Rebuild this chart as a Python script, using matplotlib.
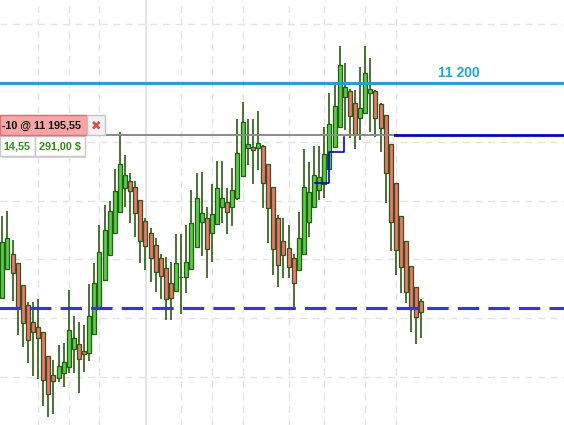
import matplotlib
matplotlib.use("Agg")
import matplotlib.pyplot as plt
from matplotlib.patches import Rectangle
import numpy as np

# OHLC prices, one entry per candle (left to right)
opens = [11181.72, 11184.19, 11185.46, 11184.70, 11182.83, 11181.13, 11179.68, 11179.26, 11178.83, 11176.79,
         11175.17, 11174.92, 11175.34, 11175.85, 11177.39, 11177.81, 11177.22, 11177.04, 11178.66, 11180.96,
         11183.25, 11185.38, 11187.25, 11189.03, 11191.07, 11191.67, 11191.16, 11190.05, 11188.27, 11187.25,
         11186.23, 11185.12, 11184.27, 11183.00, 11182.32, 11183.51, 11183.51, 11184.19, 11186.06, 11188.18,
         11188.52, 11187.25, 11188.01, 11189.46, 11189.88, 11189.46, 11190.22, 11192.10, 11194.48, 11194.56,
         11194.48, 11194.65, 11193.12, 11191.16, 11188.52, 11186.57, 11185.97, 11185.12, 11184.10, 11185.46,
         11188.18, 11189.46, 11190.90, 11191.41, 11192.69, 11194.56, 11196.26, 11198.81, 11199.32, 11198.30,
         11197.03, 11197.45, 11199.15, 11199.32, 11198.22, 11197.28, 11194.82, 11191.50, 11188.69, 11186.57,
         11184.44, 11182.66, 11181.47]
highs = [11188.69, 11189.12, 11186.65, 11184.70, 11182.83, 11181.38, 11181.38, 11181.64, 11178.83, 11176.79,
         11176.45, 11177.73, 11177.90, 11182.40, 11180.19, 11179.68, 11179.43, 11182.91, 11184.70, 11187.93,
         11189.63, 11189.97, 11192.69, 11195.84, 11193.88, 11192.35, 11191.67, 11190.05, 11188.52, 11187.67,
         11186.82, 11185.46, 11185.21, 11184.78, 11187.16, 11187.16, 11187.93, 11190.90, 11192.35, 11192.44,
         11189.46, 11191.41, 11193.37, 11193.37, 11191.07, 11192.78, 11196.94, 11198.39, 11196.94, 11196.94,
         11197.62, 11194.73, 11193.12, 11191.16, 11188.78, 11188.52, 11187.93, 11185.46, 11189.03, 11194.39,
         11193.29, 11194.65, 11194.65, 11196.26, 11199.15, 11199.83, 11203.15, 11201.70, 11199.49, 11199.41,
         11201.36, 11203.15, 11202.13, 11199.41, 11198.30, 11197.28, 11194.82, 11191.50, 11188.69, 11186.57,
         11184.44, 11182.66, 11181.64]
lows = [11181.72, 11184.10, 11181.47, 11178.58, 11177.56, 11176.19, 11175.09, 11174.83, 11172.54, 11171.60,
        11171.86, 11174.58, 11174.15, 11175.34, 11175.34, 11173.64, 11175.43, 11176.36, 11178.66, 11180.87,
        11183.25, 11185.29, 11187.25, 11189.03, 11189.46, 11188.10, 11186.91, 11184.70, 11184.10, 11183.08,
        11182.23, 11181.64, 11179.85, 11179.85, 11182.32, 11180.36, 11182.15, 11184.19, 11186.06, 11185.29,
        11183.42, 11184.78, 11188.01, 11188.10, 11187.16, 11187.84, 11190.05, 11192.10, 11193.03, 11191.41,
        11192.61, 11189.37, 11186.40, 11183.68, 11182.66, 11183.42, 11183.42, 11180.70, 11184.10, 11185.46,
        11186.91, 11189.46, 11190.05, 11190.22, 11192.69, 11194.56, 11196.26, 11196.01, 11195.33, 11194.39,
        11195.16, 11197.45, 11195.84, 11195.41, 11194.14, 11189.80, 11185.72, 11183.68, 11182.15, 11181.30,
        11178.83, 11177.81, 11178.32]
closes = [11186.48, 11186.82, 11183.85, 11180.96, 11179.60, 11178.15, 11178.83, 11178.32, 11174.75, 11173.56,
          11174.66, 11175.94, 11176.28, 11179.00, 11178.32, 11176.53, 11176.92, 11180.19, 11183.00, 11185.63,
          11187.50, 11189.12, 11190.82, 11193.12, 11192.18, 11190.82, 11188.95, 11186.57, 11186.14, 11185.12,
          11183.93, 11183.59, 11181.64, 11181.72, 11184.70, 11183.51, 11184.78, 11188.10, 11190.22, 11188.95,
          11185.89, 11188.86, 11191.07, 11190.22, 11189.03, 11190.90, 11194.05, 11196.69, 11194.82, 11194.31,
          11194.90, 11191.50, 11189.37, 11185.89, 11184.53, 11185.38, 11184.36, 11183.00, 11186.82, 11191.16,
          11190.73, 11192.18, 11192.01, 11193.97, 11196.52, 11198.05, 11201.53, 11199.66, 11197.20, 11195.67,
          11197.88, 11200.85, 11199.49, 11197.03, 11196.18, 11192.35, 11188.18, 11185.80, 11184.36, 11182.23,
          11180.87, 11180.11, 11180.53]

level_price = 11200.0          # light blue level
order_price = 11195.55         # pending order line
support_price = 11180.90       # dashed support
stop_x = [61.2, 64.0, 64.0, 66.9, 66.9]
stop_y = [11191.47, 11191.47, 11194.11, 11194.11, 11195.43]
vgrid_x = [7, 13, 19, 35, 41, 47, 56, 63, 71, 77]
session_x = 28.1
order_switch_x = 76.85

GREEN = "#52cf48"
RED = "#f47171"
EDGE = "#2b5a12"
FONT = ["Liberation Sans", "DejaVu Sans"]

fig = plt.figure(figsize=(5.64, 4.25), dpi=100)
ax = fig.add_axes([0, 0, 1, 1])
ax.set_xlim(-0.45, 109.9)
ax.set_ylim(11170.92, 11207.06)
ax.axis("off")

# grid
for gy in np.arange(11170, 11210, 5):
    ax.axhline(gy, color="#e3e3e3", lw=1, ls=(0, (5, 4)), zorder=0)
for gx in vgrid_x:
    ax.axvline(gx, color="#e3e3e3", lw=1, ls=(0, (5, 4)), zorder=0)
ax.axvline(session_x, color="#dcdce4", lw=1.1, zorder=0)

x = np.arange(len(opens))
o = np.array(opens)
c = np.array(closes)
colors = [GREEN if cc > oo else RED for oo, cc in zip(o, c)]
ax.vlines(x, lows, highs, color=EDGE, lw=1.2, zorder=2)
ax.bar(x, c - o, bottom=o, width=0.78, color=colors, edgecolor=EDGE, linewidth=0.9, zorder=3)

# levels
ax.axhline(level_price, color="#0aa8ec", lw=2.2, zorder=4)
ax.text(89.4, 11200.47, "11 200", color="#1aa3ee", fontsize=10, fontweight="bold",
        family=FONT, ha="center", va="baseline", zorder=5)
ax.plot([-0.45, order_switch_x], [order_price, order_price], color="#8a8a8a", lw=1.4, zorder=4)
ax.plot([order_switch_x, 109.9], [order_price, order_price], color="#0000ee", lw=2.0, zorder=4)
ax.plot([-0.9, 109.9], [support_price, support_price], color="#3535d8", lw=2.2, ls=(0, (7, 3)), zorder=4)
ax.plot(stop_x, stop_y, color="#0000ee", lw=1.2, zorder=4)

# order label overlay (pixel coordinates)
ov = fig.add_axes([0, 0, 1, 1])
ov.set_xlim(0, 564)
ov.set_ylim(425, 0)
ov.axis("off")
ov.add_patch(Rectangle((2, 138), 84, 20, facecolor="#d8d8d8", edgecolor="none", zorder=1))
ov.add_patch(Rectangle((0, 136), 35, 20, facecolor="white", edgecolor="#c8c8c8", lw=1, zorder=2))
ov.add_patch(Rectangle((35, 136), 50, 20, facecolor="white", edgecolor="#c8c8c8", lw=1, zorder=2))
ov.add_patch(Rectangle((0, 115), 87, 20, facecolor="#f6a6a6", edgecolor="#e07070", lw=1, zorder=2))
ov.add_patch(Rectangle((87, 115), 18, 20, facecolor="#f2f2f2", edgecolor="#c4c4c4", lw=1, zorder=2))
ov.text(2, 125.5, "-10 @ 11 195,55", fontsize=7.8, fontweight="bold", family=FONT,
        color="#111111", va="center", zorder=3)
ov.text(96, 125.5, "✖", fontsize=9, color="#e04848", family=["DejaVu Sans"], ha="center", va="center", zorder=3)
ov.text(3, 146.5, "14,55", fontsize=7.8, fontweight="bold", family=FONT, color="#2f8f10", va="center", zorder=3)
ov.text(39, 146.5, "291,00 $", fontsize=7.8, fontweight="bold", family=FONT, color="#2f8f10", va="center", zorder=3)

fig.savefig("out.png", dpi=100)
